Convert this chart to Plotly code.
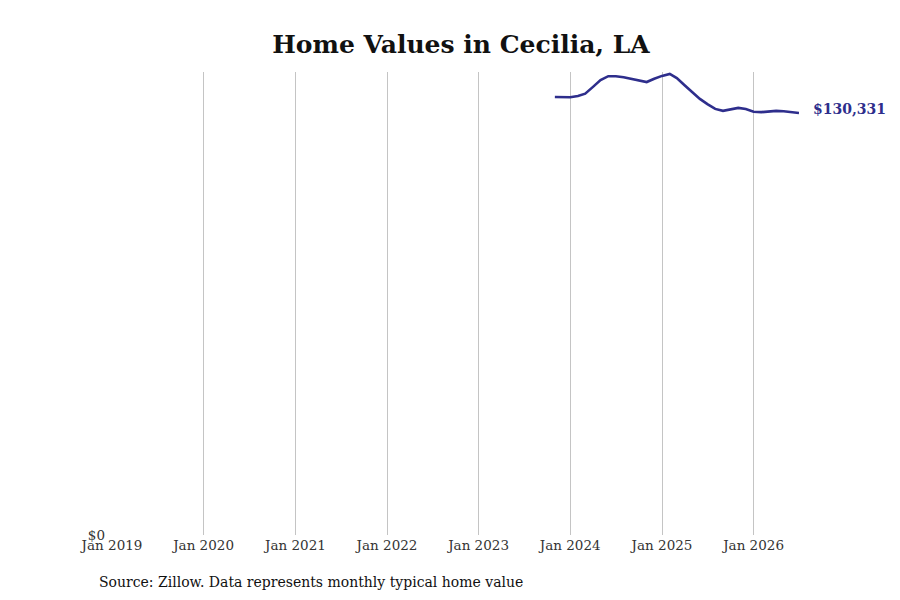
import plotly.graph_objects as go

dates = ["2023-11-01", "2023-12-01", "2024-01-01", "2024-02-01", "2024-03-01", "2024-04-01",
         "2024-05-01", "2024-06-01", "2024-07-01", "2024-08-01", "2024-09-01", "2024-10-01",
         "2024-11-01", "2024-12-01", "2025-01-01", "2025-02-01", "2025-03-01", "2025-04-01",
         "2025-05-01", "2025-06-01", "2025-07-01", "2025-08-01", "2025-09-01", "2025-10-01",
         "2025-11-01", "2025-12-01", "2026-01-01", "2026-02-01", "2026-03-01", "2026-04-01",
         "2026-05-01", "2026-06-01", "2026-07-01"]
values = [135300, 135200, 135200, 135600, 136300, 138400,
          140500, 141700, 141700, 141400, 140900, 140300,
          139900, 140900, 141800, 142400, 141100, 138900,
          136800, 134700, 133100, 131600, 131000, 131500,
          131900, 131600, 130700, 130600, 130900, 131000,
          130900, 130700, 130331]
tick_vals = ["2019-01-01", "2020-01-01", "2021-01-01", "2022-01-01", "2023-01-01",
             "2024-01-01", "2025-01-01", "2026-01-01"]
tick_text = ["Jan 2019", "Jan 2020", "Jan 2021", "Jan 2022", "Jan 2023",
             "Jan 2024", "Jan 2025", "Jan 2026"]

title_text = "Home Values in Cecilia, LA"
source_text = "Source: Zillow. Data represents monthly typical home value"
line_color = "#2e2e8c"
font = "DejaVu Serif"

# page body has an 8px margin; margins below compensate for it
L, T, PW, PH = 104, 64, 687, 463

fig = go.Figure()
fig.add_trace(go.Scatter(x=dates, y=values, mode="lines",
                         line=dict(color=line_color, width=2.6),
                         hoverinfo="skip", showlegend=False))

fig.add_annotation(x=dates[-1], y=values[-1], xref="x", yref="y",
                   text="<b>${:,}</b>".format(values[-1]), showarrow=False,
                   xanchor="left", xshift=12, yshift=4,
                   font=dict(family=font, size=14, color=line_color))
fig.add_annotation(x=(89 - L) / PW, y=-(574 - (T + PH)) / PH, xref="paper", yref="paper",
                   text=source_text, showarrow=False, xanchor="left", yanchor="middle",
                   font=dict(family=font, size=14, color="#111"))

fig.update_layout(
    width=900, height=600,
    margin=dict(l=L, r=900 - L - PW, t=T, b=600 - T - PH),
    paper_bgcolor="white", plot_bgcolor="white",
    title=dict(text="<b>" + title_text + "</b>", x=453 / 900, xanchor="center",
               y=1 - 36 / 600, yanchor="middle",
               font=dict(family=font, size=25, color="#111")),
    font=dict(family=font, size=13.5, color="#333"),
    xaxis=dict(type="date", range=["2019-01-01", "2026-07-01"], tickvals=tick_vals, ticktext=tick_text,
               showgrid=True, gridcolor="#c4c4c4", gridwidth=1, zeroline=False, showline=False,
               ticks="", tickfont=dict(family=font, size=13.5, color="#333")),
    yaxis=dict(range=[0, 143000], tickvals=[0], ticktext=["$0"], showgrid=False, zeroline=False,
               showline=False, ticks="", ticklabelstandoff=6,
               tickfont=dict(family=font, size=13.5, color="#333")),
)

fig.write_html("out.html")
